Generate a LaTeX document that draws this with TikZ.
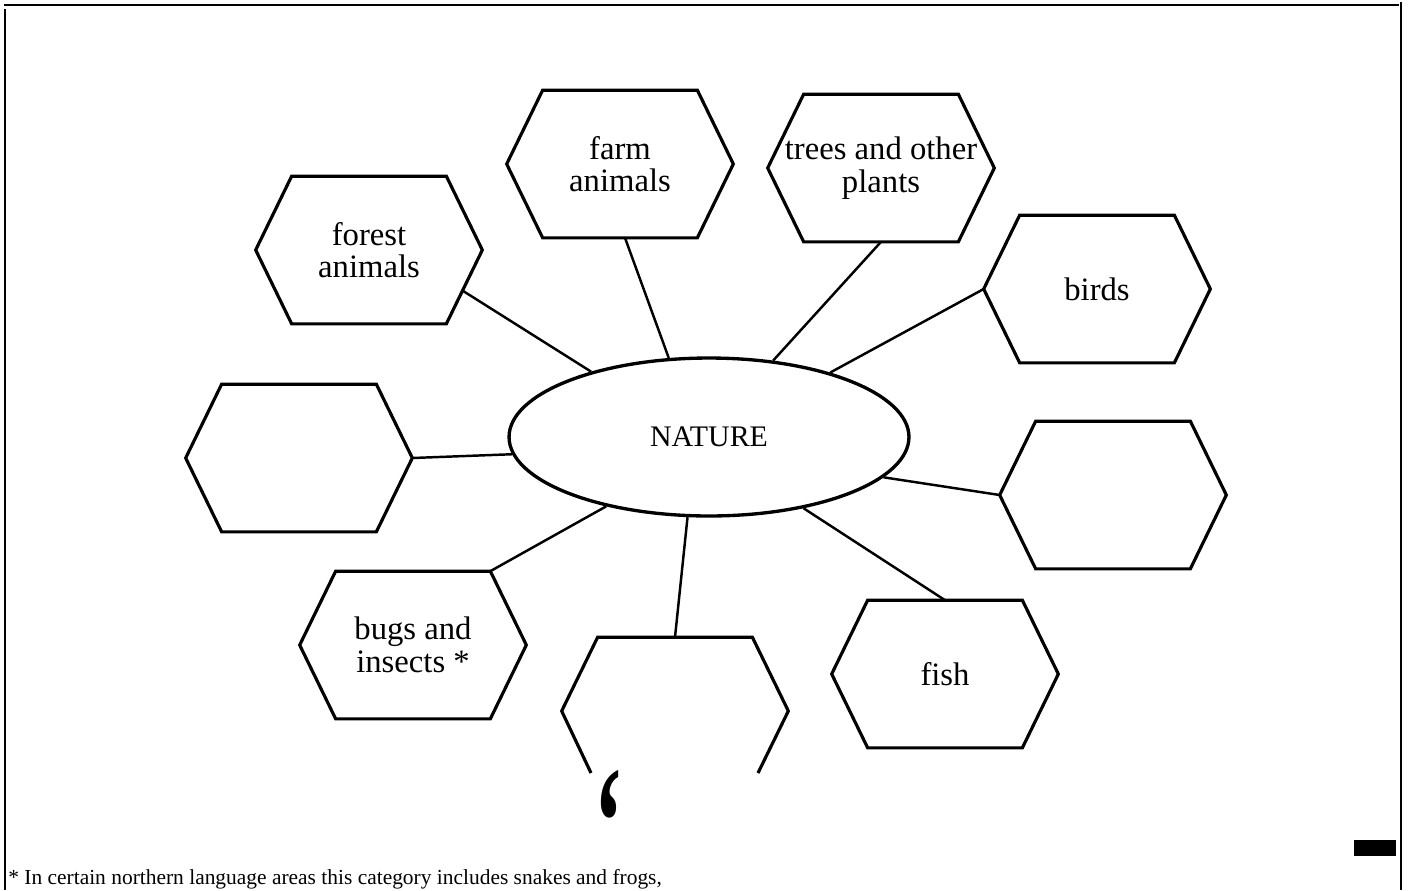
\documentclass[tikz,border=0pt]{standalone}
\usepackage{fontspec}
\setmainfont{Liberation Serif}
\usetikzlibrary{calc,shapes.geometric}

\newcommand{\hexinset}{0.72cm}

\begin{document}
\begin{tikzpicture}[
  x=0.02cm, y=-0.02cm,
  hexa/.style={minimum width=4.52cm, minimum height=2.94cm, inner sep=0pt, align=center, font=\fontsize{18.6}{18.6}\selectfont},
  hexline/.style={line width=1.8pt, line join=miter},
  hub/.style={draw, ellipse, line width=1.9pt, minimum width=8cm, minimum height=3.16cm, inner sep=0pt, font=\fontsize{17}{18}\selectfont},
  spoke/.style={line width=1.4pt},
  frame/.style={line width=1.2pt}
]
\useasboundingbox (0,0) rectangle (1412,890);
% frame round the page
\draw[frame] (4,5) -- (1399,5);
\draw[frame] (5,9) -- (5,890);
\draw[frame] (1401,2) -- (1401,890);
\fill (1354,840) rectangle (1396,856);

\node[hub] (nature) at (709,437) {NATURE};

\node[hexa] (forest) at (369,250) {forest\\animals};
\node[hexa] (farm) at (620,164) {farm\\animals};
\node[hexa] (trees) at (881,168) {trees and other\\plants};
\node[hexa] (birds) at (1097,289) {birds};
\node[hexa] (lefthex) at (299,458) {};
\node[hexa] (righthex) at (1113,495) {};
\node[hexa] (bugs) at (413,645) {bugs and\\insects *};
\node[hexa] (fish) at (945,674) {fish};
\node[hexa] (bottomhex) at (675,711) {};

\foreach \n in {forest,farm,trees,birds,lefthex,righthex,bugs,fish}
  \draw[hexline] ([xshift=\hexinset]\n.north west) -- ([xshift=-\hexinset]\n.north east) -- (\n.east)
    -- ([xshift=-\hexinset]\n.south east) -- ([xshift=\hexinset]\n.south west) -- (\n.west) -- cycle;
% bottom one runs off
\coordinate (cutleft) at (591,773);
\coordinate (cutright) at (758,773);
\draw[hexline] (cutleft) -- (bottomhex.west) -- ([xshift=\hexinset]bottomhex.north west)
  -- ([xshift=-\hexinset]bottomhex.north east) -- (bottomhex.east) -- (cutright);

% spokes
\draw[spoke] ($(forest.east)!.55!([xshift=-\hexinset]forest.south east)$) -- (nature.151);
\draw[spoke] ([xshift=0.1cm]farm.south) -- (nature.117);
\draw[spoke] (trees.south) -- (nature.50);
\draw[spoke] (birds.west) -- (nature.28);
\draw[spoke] (lefthex.east) -- (nature.185);
\draw[spoke] (righthex.west) -- (nature.-13);
\draw[spoke] ([xshift=-\hexinset]bugs.north east) -- (nature.214);
\draw[spoke] (bottomhex.north) -- (nature.255);
\draw[spoke] (fish.north) -- (nature.-37);

\node[anchor=south, inner sep=0pt] (quote) at (609,817)
  {\scalebox{0.55}[1]{\fontsize{90}{90}\selectfont\bfseries\raisebox{-0.37em}[0.33em][0pt]{‘}}};
\node[anchor=base west, inner sep=0pt, font=\fontsize{12.2}{13}\selectfont] (note) at (8,884)
  {* In certain northern language areas this category includes snakes and frogs,};
\end{tikzpicture}
\end{document}
